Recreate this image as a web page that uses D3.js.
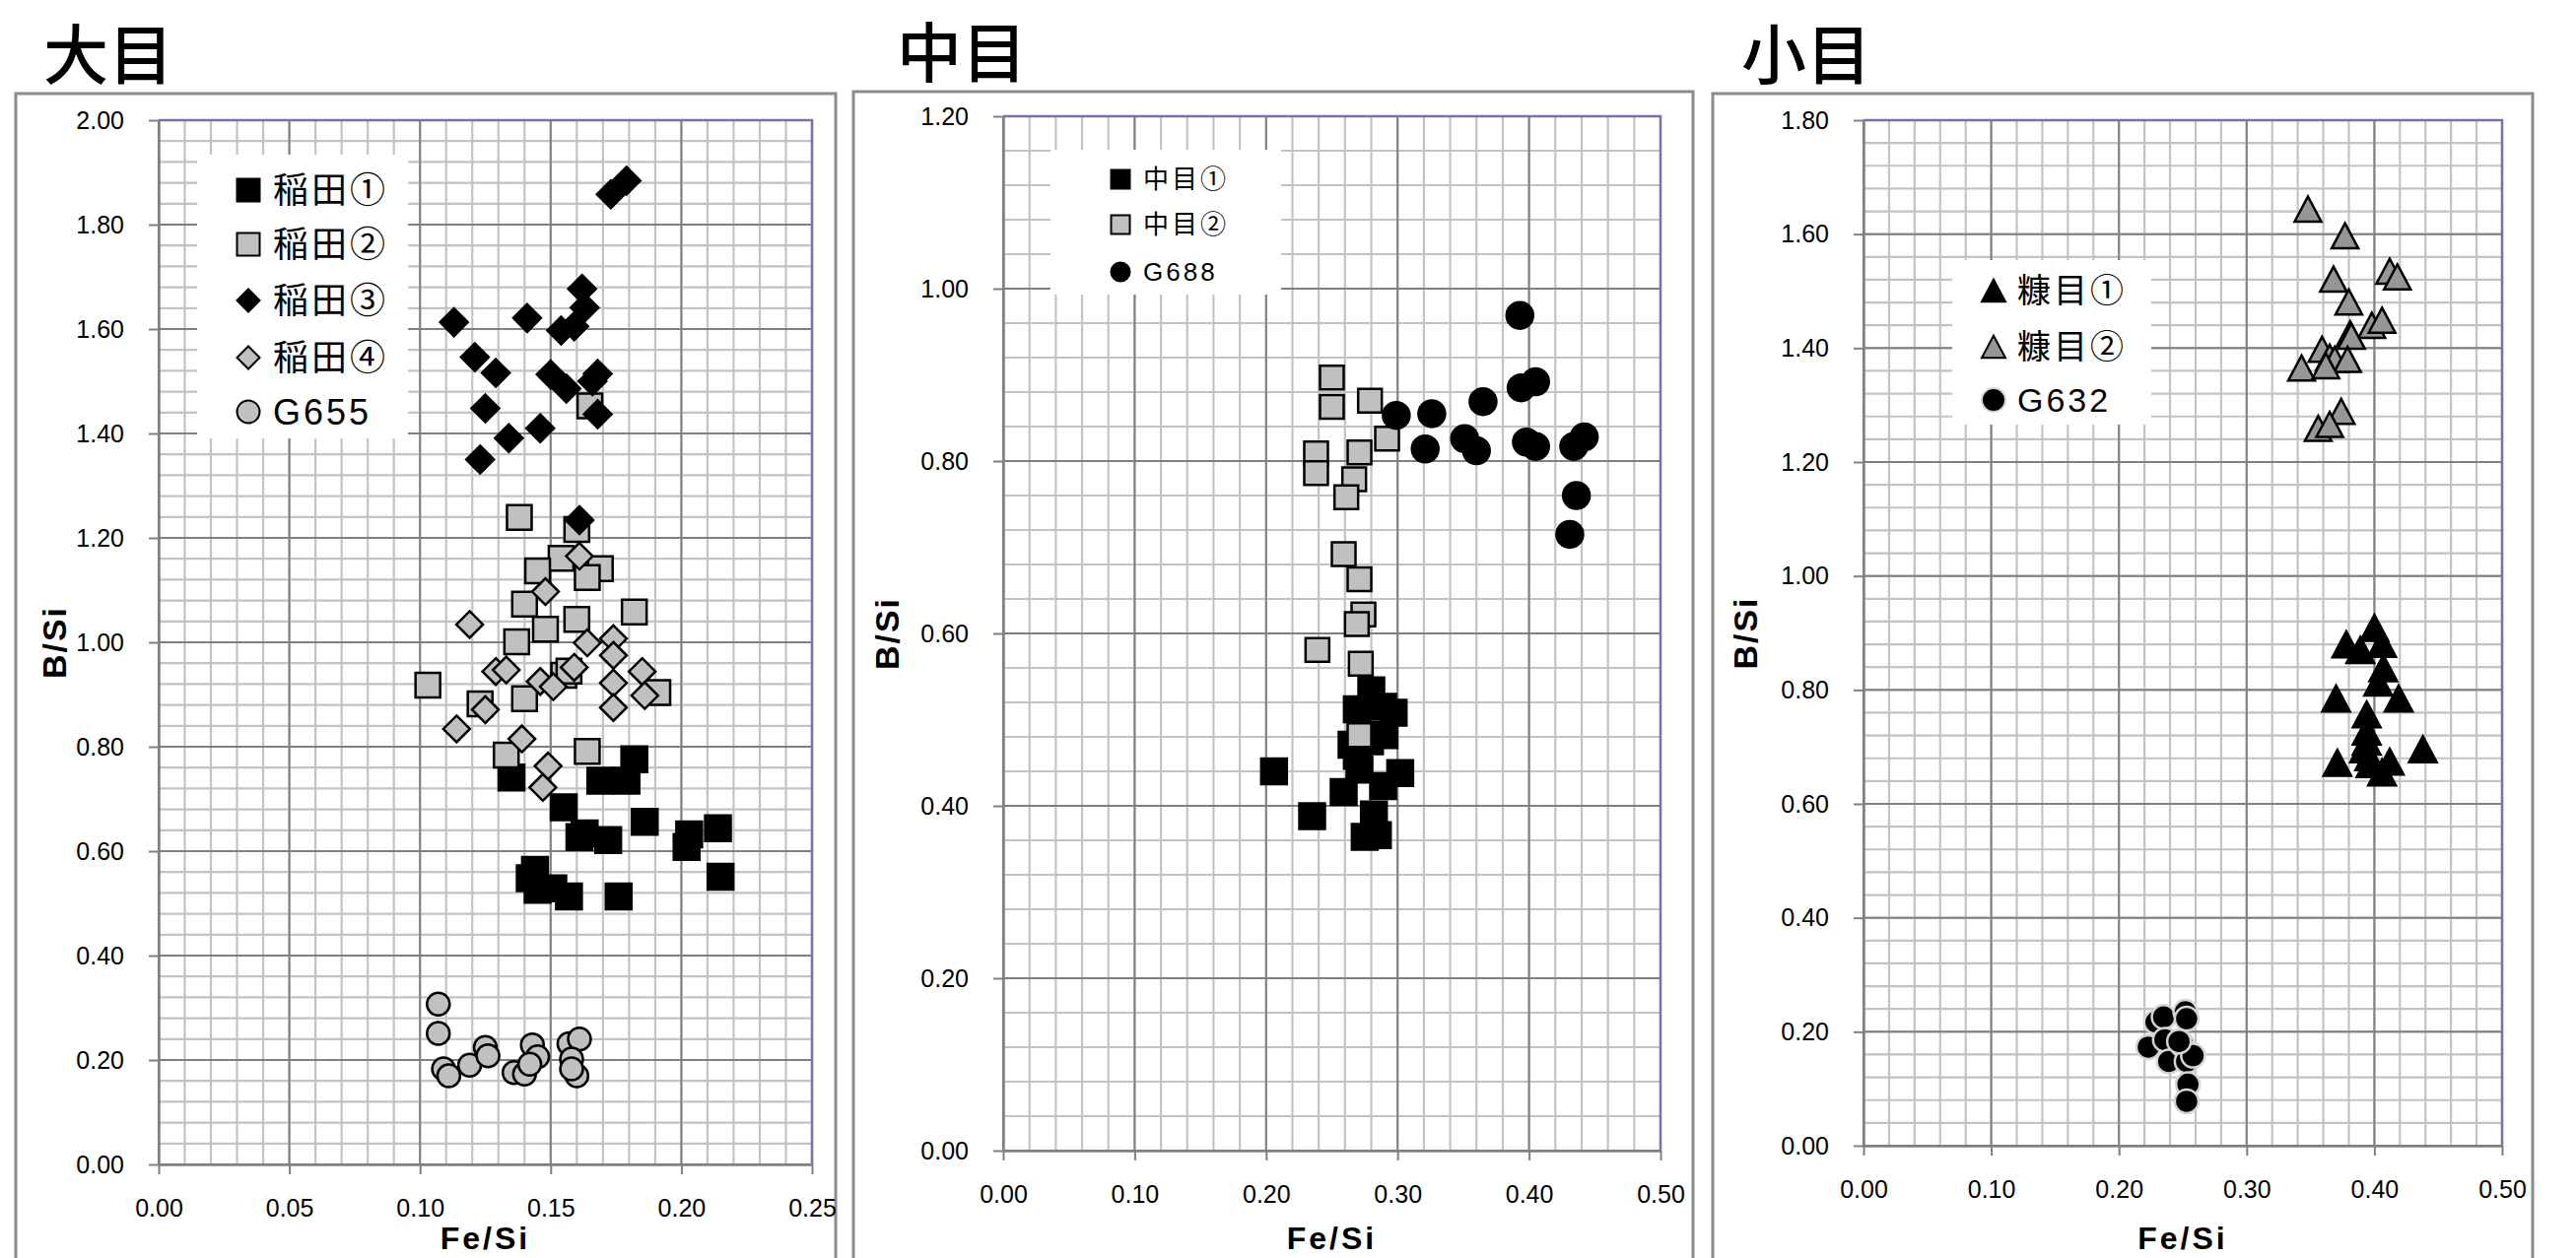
<!DOCTYPE html>
<html>
<head>
<meta charset="utf-8">
<script src="https://cdn.jsdelivr.net/npm/d3@7"></script>
<style>
  html, body { margin: 0; padding: 0; background: #fff; overflow: hidden; }
  svg { display: block; }
</style>
</head>
<body>
<svg id="chart" width="2614" height="1277"></svg>
<script>
// ---------- data: each point is [Fe/Si, B/Si] ----------
const inada1 = [[0.135,0.741],[0.182,0.776],[0.169,0.735],[0.179,0.735],[0.155,0.684],[0.161,0.627],
  [0.163,0.634],[0.172,0.621],[0.186,0.656],[0.203,0.632],[0.202,0.608],[0.214,0.644],[0.215,0.551],
  [0.144,0.564],[0.142,0.548],[0.145,0.526],[0.151,0.529],[0.157,0.513],[0.176,0.513]];
const inada2 = [[0.165,1.453],[0.138,1.239],[0.160,1.216],[0.154,1.161],[0.145,1.137],[0.169,1.141],
  [0.164,1.124],[0.140,1.073],[0.160,1.044],[0.182,1.058],[0.148,1.025],[0.137,1.001],[0.103,0.918],
  [0.155,0.937],[0.157,0.945],[0.123,0.882],[0.140,0.892],[0.191,0.904],[0.133,0.784],[0.164,0.791]];
const inada3 = [[0.179,1.884],[0.173,1.858],[0.162,1.677],[0.163,1.641],[0.113,1.613],[0.141,1.621],
  [0.154,1.597],[0.159,1.605],[0.121,1.546],[0.129,1.516],[0.150,1.513],[0.156,1.486],[0.168,1.514],
  [0.166,1.500],[0.168,1.437],[0.125,1.448],[0.146,1.410],[0.134,1.391],[0.123,1.350],[0.161,1.234]];
const inada4 = [[0.161,1.165],[0.148,1.097],[0.119,1.034],[0.164,0.999],[0.174,1.007],[0.174,0.975],
  [0.129,0.944],[0.133,0.947],[0.159,0.952],[0.146,0.925],[0.151,0.915],[0.174,0.922],[0.185,0.944],
  [0.186,0.898],[0.174,0.875],[0.125,0.871],[0.114,0.834],[0.139,0.815],[0.149,0.763],[0.147,0.722]];
const g655 = [[0.107,0.307],[0.107,0.251],[0.109,0.183],[0.111,0.170],[0.119,0.190],[0.125,0.224],
  [0.126,0.208],[0.136,0.176],[0.140,0.173],[0.143,0.229],[0.145,0.206],[0.142,0.192],[0.157,0.231],
  [0.161,0.240],[0.158,0.202],[0.160,0.170],[0.158,0.183]];

const chume1 = [[0.280,0.534],[0.269,0.512],[0.289,0.515],[0.297,0.508],[0.265,0.471],[0.290,0.482],
  [0.206,0.440],[0.302,0.438],[0.271,0.442],[0.259,0.416],[0.289,0.423],[0.235,0.388],[0.282,0.390],
  [0.275,0.364],[0.285,0.366],[0.279,0.475],[0.269,0.458]];
const chume2 = [[0.250,0.897],[0.250,0.863],[0.279,0.870],[0.292,0.826],[0.238,0.809],[0.238,0.786],
  [0.271,0.810],[0.267,0.779],[0.261,0.758],[0.259,0.692],[0.271,0.663],[0.274,0.622],[0.269,0.611],
  [0.239,0.581],[0.272,0.565],[0.271,0.482]];
const g688 = [[0.393,0.969],[0.394,0.885],[0.405,0.892],[0.365,0.869],[0.299,0.853],[0.326,0.855],
  [0.321,0.814],[0.351,0.826],[0.360,0.812],[0.398,0.822],[0.405,0.817],[0.434,0.817],[0.442,0.828],
  [0.436,0.760],[0.431,0.715]];

const nukame1 = [[0.400,0.909],[0.378,0.880],[0.389,0.870],[0.406,0.881],[0.407,0.838],[0.403,0.813],
  [0.370,0.785],[0.419,0.785],[0.394,0.757],[0.394,0.727],[0.394,0.709],[0.392,0.696],[0.438,0.696],
  [0.371,0.672],[0.412,0.674],[0.397,0.670],[0.406,0.655],[0.396,0.682]];
const nukame2 = [[0.348,1.644],[0.377,1.597],[0.412,1.535],[0.418,1.525],[0.368,1.521],[0.380,1.481],
  [0.398,1.440],[0.406,1.449],[0.381,1.425],[0.382,1.421],[0.359,1.398],[0.365,1.384],[0.369,1.380],
  [0.379,1.380],[0.343,1.365],[0.362,1.369],[0.374,1.289],[0.356,1.259],[0.365,1.266]];
const g632 = [[0.223,0.173],[0.229,0.217],[0.235,0.226],[0.236,0.186],[0.239,0.148],[0.252,0.235],
  [0.253,0.223],[0.250,0.176],[0.254,0.162],[0.253,0.148],[0.254,0.108],[0.253,0.078],[0.258,0.158],
  [0.247,0.183]];

// ---------- tick values ----------
const xTicksL = [0, 0.05, 0.10, 0.15, 0.20, 0.25];
const xTicksM = [0, 0.10, 0.20, 0.30, 0.40, 0.50];
const yTicksL = [0, 0.2, 0.4, 0.6, 0.8, 1.0, 1.2, 1.4, 1.6, 1.8, 2.0];
const yTicksM = [0, 0.2, 0.4, 0.6, 0.8, 1.0, 1.2];
const yTicksS = [0, 0.2, 0.4, 0.6, 0.8, 1.0, 1.2, 1.4, 1.6, 1.8];

// ---------- styling ----------
const LATIN = "'Liberation Sans', Arial, 'Noto Sans CJK JP', sans-serif";
const CJK = "'Noto Sans CJK JP', 'Liberation Sans', sans-serif";
const GRAY = "#c0c0c0";
const DARKGRAY = "#969696";

function circlePath(s) {
  const p = d3.path();
  p.arc(0, 0, s / 2, 0, 2 * Math.PI);
  p.closePath();
  return p.toString();
}
const shapes = {
  square: s => `M${-s/2},${-s/2}h${s}v${s}h${-s}Z`,
  diamond: s => `M0,${-s/2}L${s/2},0L0,${s/2}L${-s/2},0Z`,
  triangle: s => `M0,${-s*0.47}L${s/2},${s*0.47}L${-s/2},${s*0.47}Z`,
  circle: circlePath
};

const panels = [
  {
    title: "大目", titleX: 44, titleY: 80,
    frame: [16, 95, 832],
    plot: { left: 161, right: 824, top: 122, bottom: 1182 },
    xDomain: [0, 0.25], yDomain: [0, 2.0], xMinor: 0.01, yMinor: 0.04,
    xTicks: xTicksL, yTicks: yTicksL,
    yTitleX: 55,
    series: [
      { name: "稲田①", data: inada1, shape: "square", size: 26, fill: "#000", stroke: "#000" },
      { name: "稲田②", data: inada2, shape: "square", size: 25, fill: GRAY, stroke: "#000" },
      { name: "稲田③", data: inada3, shape: "diamond", size: 28, fill: "#000", stroke: "#000" },
      { name: "稲田④", data: inada4, shape: "diamond", size: 27, fill: GRAY, stroke: "#000" },
      { name: "G655", data: g655, shape: "circle", size: 23, fill: GRAY, stroke: "#000" }
    ],
    legend: { x: 200, y: 157, w: 214, h: 288, rows: [193, 248, 305, 363, 418], mx: 252, tx: 277, fs: 36, ms: 23 }
  },
  {
    title: "中目", titleX: 910, titleY: 78,
    frame: [866, 93, 852],
    plot: { left: 1018, right: 1685, top: 118, bottom: 1168 },
    xDomain: [0, 0.5], yDomain: [0, 1.2], xMinor: 0.02, yMinor: 0.04,
    xTicks: xTicksM, yTicks: yTicksM,
    yTitleX: 900,
    series: [
      { name: "中目①", data: chume1, shape: "square", size: 26, fill: "#000", stroke: "#000" },
      { name: "中目②", data: chume2, shape: "square", size: 24, fill: GRAY, stroke: "#000" },
      { name: "G688", data: g688, shape: "circle", size: 27, fill: "#000", stroke: "#000" }
    ],
    legend: { x: 1066, y: 152, w: 234, h: 147, rows: [182, 228, 276], mx: 1137, tx: 1160, fs: 26, ms: 19 }
  },
  {
    title: "小目", titleX: 1767, titleY: 80,
    frame: [1738, 95, 832],
    plot: { left: 1891, right: 2539, top: 122, bottom: 1163 },
    xDomain: [0, 0.5], yDomain: [0, 1.8], xMinor: 0.02, yMinor: 0.04,
    xTicks: xTicksM, yTicks: yTicksS,
    yTitleX: 1771,
    series: [
      { name: "糠目①", data: nukame1, shape: "triangle", size: 28, fill: "#000", stroke: "#000" },
      { name: "糠目②", data: nukame2, shape: "triangle", size: 27, fill: DARKGRAY, stroke: "#000" },
      { name: "G632", data: g632, shape: "circle", size: 24, fill: "#000", stroke: "#d4d4d4" }
    ],
    legend: { x: 1981, y: 264, w: 202, h: 167, rows: [295, 352, 406], mx: 2023, tx: 2047, fs: 34, ms: 24 }
  }
];

const svg = d3.select("#chart");
const fmt = d3.format(".2f");

function drawPanel(p) {
  const g = svg.append("g");
  const P = p.plot;

  // chart frame (runs past the bottom of the canvas)
  g.append("rect")
    .attr("x", p.frame[0]).attr("y", p.frame[1])
    .attr("width", p.frame[2]).attr("height", 1400)
    .attr("fill", "none").attr("stroke", "#8c8c8c").attr("stroke-width", 3);

  // panel title
  g.append("text")
    .attr("x", p.titleX).attr("y", p.titleY)
    .attr("font-family", CJK).attr("font-size", 66).attr("font-weight", 500)
    .attr("fill", "#000").text(p.title);

  const x = d3.scaleLinear().domain(p.xDomain).range([P.left, P.right]);
  const y = d3.scaleLinear().domain(p.yDomain).range([P.bottom, P.top]);

  g.append("rect")
    .attr("x", P.left).attr("y", P.top)
    .attr("width", P.right - P.left).attr("height", P.bottom - P.top)
    .attr("fill", "#fff");

  // minor grid
  const xm = d3.range(p.xDomain[0], p.xDomain[1] + 1e-9, p.xMinor);
  const ym = d3.range(p.yDomain[0], p.yDomain[1] + 1e-9, p.yMinor);
  const grid = g.append("g");
  grid.selectAll(".vx").data(xm).join("line")
    .attr("x1", d => x(d)).attr("x2", d => x(d))
    .attr("y1", P.top).attr("y2", P.bottom)
    .attr("stroke", "#c3c3c3").attr("stroke-width", 2.2);
  grid.selectAll(".hy").data(ym).join("line")
    .attr("y1", d => y(d)).attr("y2", d => y(d))
    .attr("x1", P.left).attr("x2", P.right)
    .attr("stroke", "#c3c3c3").attr("stroke-width", 2.2);

  // major grid
  grid.selectAll(".mx").data(p.xTicks).join("line")
    .attr("x1", d => x(d)).attr("x2", d => x(d))
    .attr("y1", P.top).attr("y2", P.bottom)
    .attr("stroke", "#808080").attr("stroke-width", 2);
  grid.selectAll(".my").data(p.yTicks).join("line")
    .attr("y1", d => y(d)).attr("y2", d => y(d))
    .attr("x1", P.left).attr("x2", P.right)
    .attr("stroke", "#808080").attr("stroke-width", 2);

  // plot-area border on the top and right
  g.append("path")
    .attr("d", `M${P.left},${P.top}H${P.right}V${P.bottom}`)
    .attr("fill", "none").attr("stroke", "#7474aa").attr("stroke-width", 2.5);

  // axes
  const ax = g.append("g").attr("transform", `translate(0,${P.bottom})`)
    .call(d3.axisBottom(x).tickValues(p.xTicks).tickFormat(fmt).tickSize(10).tickSizeOuter(0).tickPadding(25));
  const ay = g.append("g").attr("transform", `translate(${P.left},0)`)
    .call(d3.axisLeft(y).tickValues(p.yTicks).tickFormat(fmt).tickSize(10).tickSizeOuter(0).tickPadding(25));
  [ax, ay].forEach(a => {
    a.select(".domain").attr("stroke", "#808080").attr("stroke-width", 2.5);
    a.selectAll(".tick line").attr("stroke", "#808080").attr("stroke-width", 2);
    a.selectAll(".tick text").attr("font-family", LATIN).attr("font-size", 25).attr("fill", "#000");
  });

  // axis titles
  g.append("text")
    .attr("x", (P.left + P.right) / 2).attr("y", 1268)
    .attr("text-anchor", "middle")
    .attr("font-family", LATIN).attr("font-size", 32).attr("font-weight", "bold")
    .attr("letter-spacing", 3).attr("fill", "#000")
    .text("Fe/Si");
  g.append("text")
    .attr("transform", `translate(${p.yTitleX + 12},${(P.top + P.bottom) / 2}) rotate(-90)`)
    .attr("text-anchor", "middle")
    .attr("font-family", LATIN).attr("font-size", 34).attr("font-weight", "bold")
    .attr("letter-spacing", 2).attr("fill", "#000")
    .text("B/Si");

  // data series, drawn in legend order
  p.series.forEach(s => {
    g.append("g").selectAll("path").data(s.data).join("path")
      .attr("transform", d => `translate(${x(d[0])},${y(d[1])})`)
      .attr("d", shapes[s.shape](s.size))
      .attr("fill", s.fill).attr("stroke", s.stroke).attr("stroke-width", 2.5)
      .attr("stroke-linejoin", "miter");
  });

  // legend
  const L = p.legend;
  const lg = g.append("g");
  lg.append("rect").attr("x", L.x).attr("y", L.y).attr("width", L.w).attr("height", L.h).attr("fill", "#fff");
  p.series.forEach((s, i) => {
    lg.append("path")
      .attr("transform", `translate(${L.mx},${L.rows[i]})`)
      .attr("d", shapes[s.shape](L.ms))
      .attr("fill", s.fill).attr("stroke", s.stroke).attr("stroke-width", 2);
    lg.append("text")
      .attr("x", L.tx).attr("y", L.rows[i]).attr("dy", "0.36em")
      .attr("font-family", LATIN).attr("font-size", L.fs)
      .attr("letter-spacing", 3).attr("fill", "#000")
      .text(s.name);
  });
}

panels.forEach(drawPanel);
</script>
</body>
</html>
